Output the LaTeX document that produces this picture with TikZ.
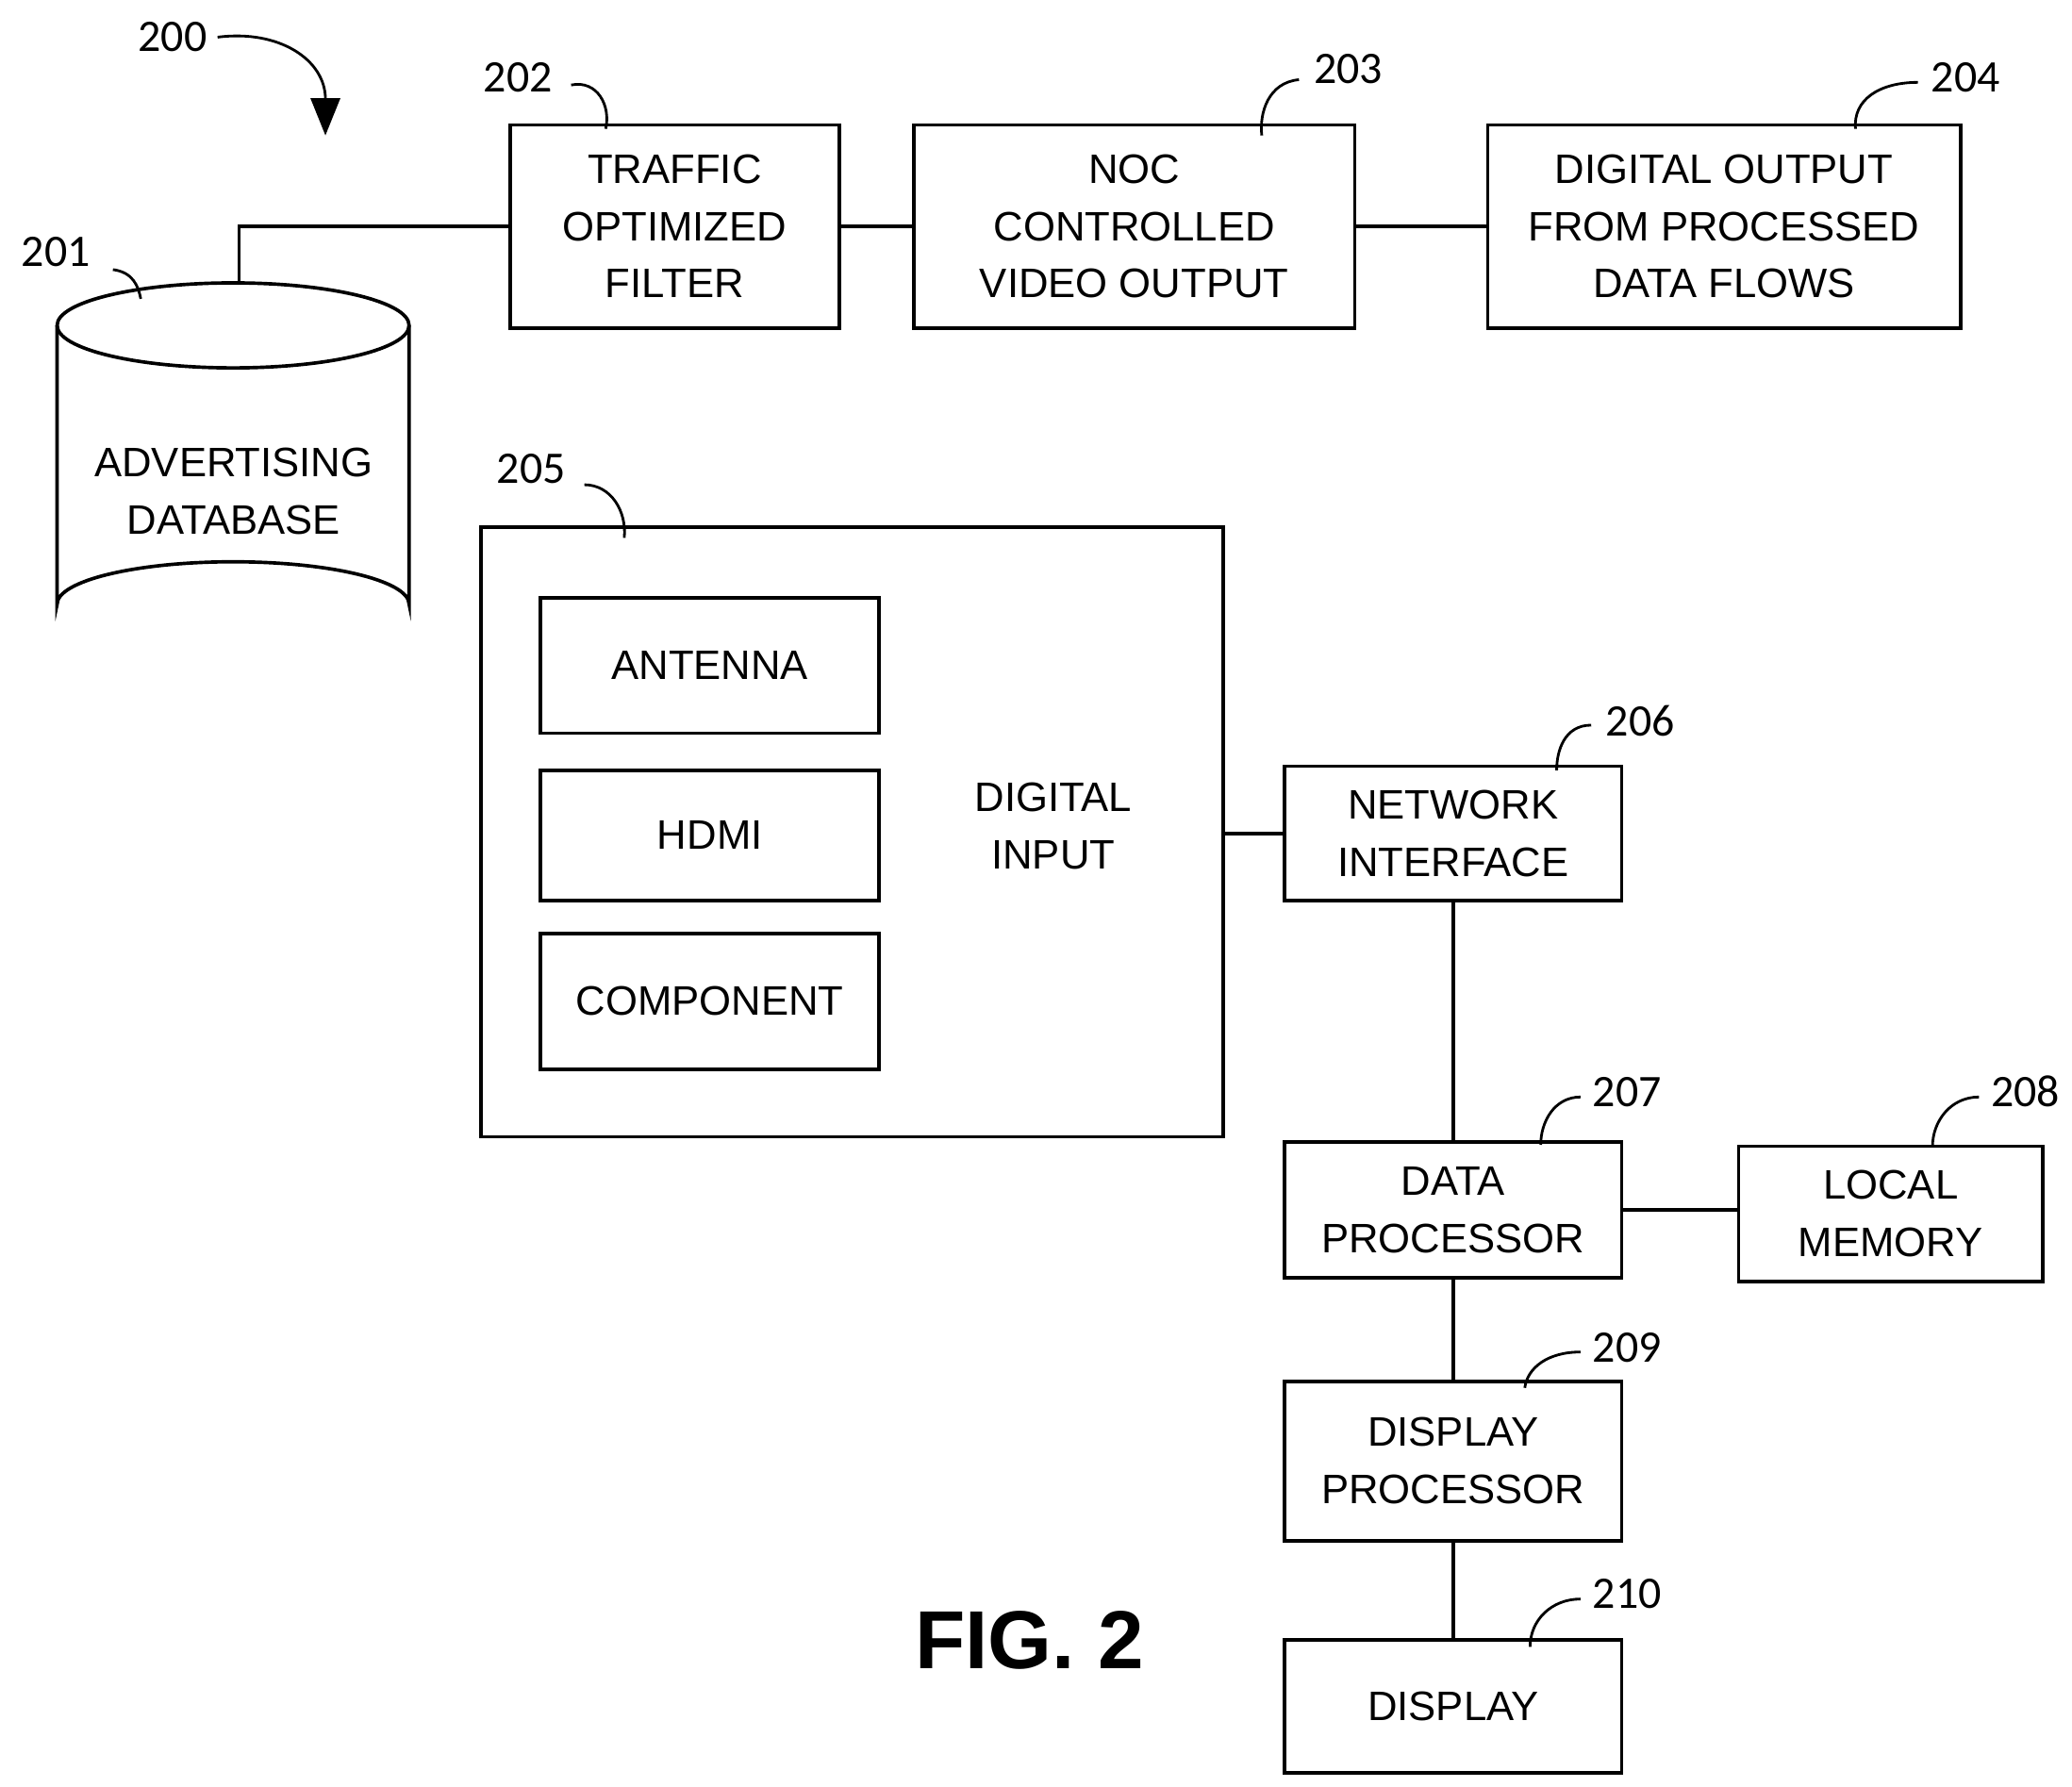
\documentclass[tikz,border=0pt]{standalone}
\usepackage{fontspec}
\setmainfont{Liberation Sans}
\newfontfamily\lblfont{Carlito}
\usetikzlibrary{arrows.meta}
\begin{document}
\begin{tikzpicture}[x=0.5pt,y=-0.5pt,line width=1.3pt,
 box/.style={draw,line width=1.3pt,align=center,font=\fontsize{15.5}{21.5}\selectfont,inner sep=0},
 lbl/.style={font=\lblfont\fontsize{17}{20}\selectfont},
 lead/.style={line width=1pt}]
\useasboundingbox (0,0) rectangle (1560,1345);
% cylinder
\draw (43,245) -- (43,455) arc[start angle=180,end angle=360,x radius=132.5,y radius=32] -- (308,245);
\draw (175.5,245) ellipse[x radius=132.5,y radius=32];
\node[align=center,font=\fontsize{15.5}{21.5}\selectfont] (db) at (176,370) {ADVERTISING\\DATABASE};
\coordinate (dbtop) at (180,213);
% top boxes
\node[box,minimum width=124pt,minimum height=76.5pt] (f) at (508,170.5) {TRAFFIC\\OPTIMIZED\\FILTER};
\node[box,minimum width=166pt,minimum height=76.5pt] (n) at (854,170.5) {NOC\\CONTROLLED\\VIDEO OUTPUT};
\node[box,minimum width=178pt,minimum height=76.5pt] (d) at (1298,170.5) {DIGITAL OUTPUT\\FROM PROCESSED\\DATA FLOWS};
\draw (dbtop) |- (f.west);
\draw (f.east) -- (n.west);
\draw (n.east) -- (d.west);
% 205
\node[draw,line width=1.3pt,minimum width=279.5pt,minimum height=229.5pt,inner sep=0] (di) at (641.5,626.5) {};
\node[box,minimum width=127.5pt,minimum height=51pt] (ant) at (534.5,501) {ANTENNA};
\node[box,minimum width=127.5pt,minimum height=49pt] (hd) at (534.5,629) {HDMI};
\node[box,minimum width=127.5pt,minimum height=51pt] (co) at (534.5,754) {COMPONENT};
\node[align=center,font=\fontsize{15.5}{21.5}\selectfont] (dil) at (793,622) {DIGITAL\\INPUT};
% right column
\node[box,minimum width=127pt,minimum height=50.5pt] (ni) at (1094,627.5) {NETWORK\\INTERFACE};
\node[box,minimum width=127pt,minimum height=51pt] (dp) at (1094,911) {DATA\\PROCESSOR};
\node[box,minimum width=114.5pt,minimum height=51pt] (lm) at (1423.5,914) {LOCAL\\MEMORY};
\node[box,minimum width=127pt,minimum height=60pt] (dsp) at (1094,1100) {DISPLAY\\PROCESSOR};
\node[box,minimum width=127pt,minimum height=50pt] (dis) at (1094,1285) {DISPLAY};
\draw (di.east |- ni.west) -- (ni.west);
\draw (ni.south) -- (dp.north);
\draw (dp.east) -- (dp.east -| lm.west);
\draw (dp.south) -- (dsp.north);
\draw (dsp.south) -- (dis.north);
\node[font=\bfseries\fontsize{31}{36}\selectfont] (fig) at (775,1235) {FIG. 2};
% labels
\node[lbl] (l200) at (130,28) {200};
\draw[lead,-{Triangle[length=14pt,width=11pt]}] (l200.east) .. controls (210,22) and (245,45) .. (245,102);
\node[lbl] (l201) at (42,190) {201};
\draw[lead] (85,203) .. controls (100,205) and (104,215) .. (106,225);
\node[lbl] (l202) at (390,58) {202};
\draw[lead] (430,64) .. controls (450,60) and (460,80) .. (456,97);
\node[lbl] (l203) at (1015,52) {203};
\draw[lead] (978,60) .. controls (955,62) and (948,85) .. (950,102);
\node[lbl] (l204) at (1480,58) {204};
\draw[lead] (1444,62) .. controls (1415,62) and (1395,75) .. (1397,97);
\node[lbl] (l205) at (400,353) {205};
\draw[lead] (440,365) .. controls (460,365) and (472,385) .. (470,405);
\node[lbl] (l206) at (1235,543) {206};
\draw[lead] (1198,546) .. controls (1178,546) and (1172,565) .. (1172,580);
\node[lbl] (l207) at (1225,822) {207};
\draw[lead] (1190,826) .. controls (1170,826) and (1160,845) .. (1160,862);
\node[lbl] (l208) at (1525,822) {208};
\draw[lead] (1490,826) .. controls (1468,826) and (1455,845) .. (1455,863);
\node[lbl] (l209) at (1225,1015) {209};
\draw[lead] (1190,1018) .. controls (1165,1018) and (1150,1030) .. (1148,1045);
\node[lbl] (l210) at (1225,1200) {210};
\draw[lead] (1190,1204) .. controls (1168,1204) and (1152,1220) .. (1152,1240);
\end{tikzpicture}
\end{document}
